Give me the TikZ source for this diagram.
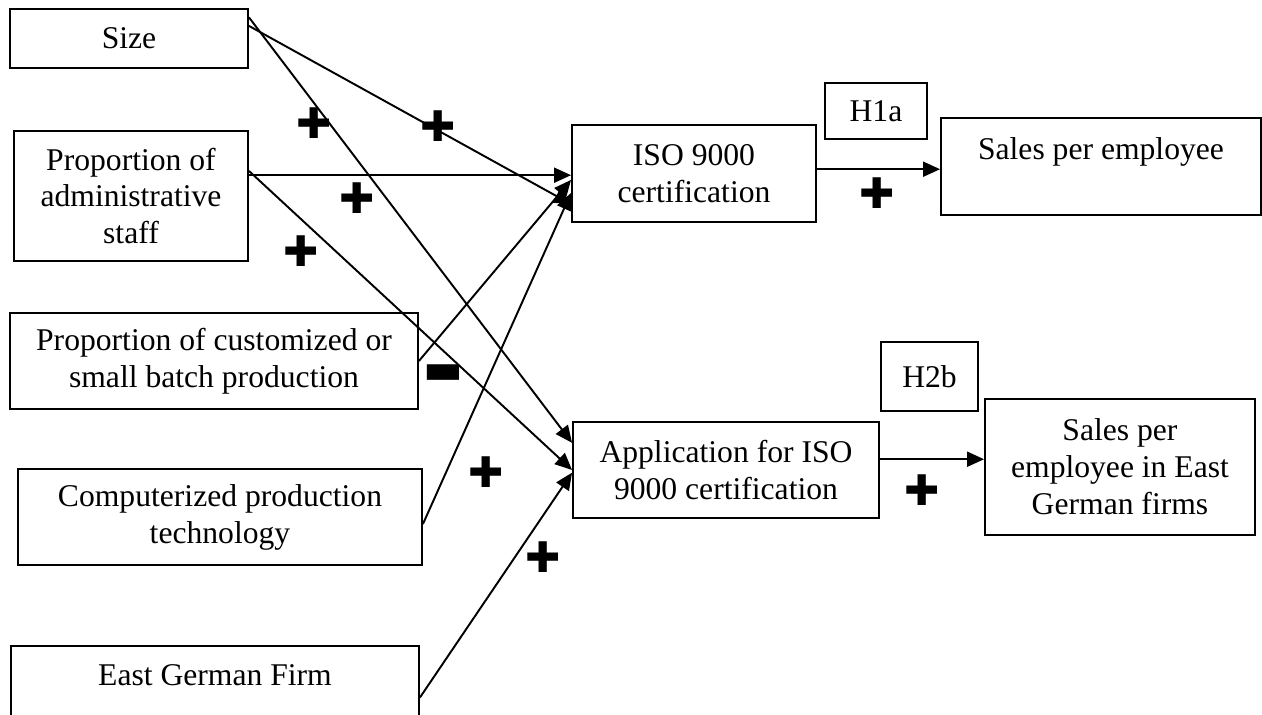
\documentclass[tikz,border=0pt]{standalone}
\usepackage{fontspec}
\setmainfont{Liberation Serif}
\newfontfamily\signfont{DejaVu Sans}
\usetikzlibrary{arrows.meta}

\begin{document}
\begin{tikzpicture}[x=0.02cm, y=-0.02cm, line width=1.1pt,
    box/.style={draw, rectangle, align=center, inner sep=0pt, font=\fontsize{18}{21}\selectfont},
    sign/.style={inner sep=0pt, font=\signfont\fontsize{24}{24}\selectfont},
    >={Triangle[length=0.34cm, width=0.3cm]}]
  \useasboundingbox (0,0) rectangle (1262,715);
  \clip (0,0) rectangle (1262,715);
  \begin{scope}
    \node[box, minimum width=4.76cm, minimum height=1.18cm] (f0) at (129,38.5) {Size};
    \node[box, minimum width=4.68cm, minimum height=2.6cm] (f1) at (131,196) {Proportion of\\administrative\\staff};
    \node[box, minimum width=8.16cm, minimum height=1.92cm] (f2) at (214,361) {Proportion of customized or\\small batch production};
    \node[box, minimum width=8.08cm, minimum height=1.92cm] (f3) at (220,517) {Computerized production\\technology};
    \node[box, minimum width=8.16cm, minimum height=1.92cm, anchor=north] (f4) at (215,645) {East German Firm\\\mbox{}};
  \end{scope}
  \begin{scope}
    \node[box, minimum width=4.88cm, minimum height=1.94cm] (i0) at (694,173.5) {ISO 9000\\certification};
    \node[box, minimum width=6.12cm, minimum height=1.92cm] (i1) at (726,470) {Application for ISO\\9000 certification};
    \node[box, minimum width=2.04cm, minimum height=1.12cm] (h0) at (876,111) {H1a};
    \node[box, minimum width=1.94cm, minimum height=1.38cm] (h1) at (929.5,376.5) {H2b};
    \node[box, minimum width=6.4cm, minimum height=1.94cm] (p0) at (1101,166.5) {Sales per employee\\\mbox{}};
    \node[box, minimum width=5.4cm, minimum height=2.72cm] (p1) at (1120,467) {Sales per\\employee in East\\German firms};
  \end{scope}
  \begin{scope}[->]
    \draw (f0.10) -- (i1.170);
    \draw (f0.6) -- (i0.194);
    \draw (f1.10) -- (f1.10 -| i0.west);
    \draw (f1.12) -- (i1.west);
    \draw (f2.east) -- (i0.183);
    \draw (f3.-2) -- (i0.189);
    \draw (f4.-1) -- (i1.181);
    \draw (i0.2) -- (i0.2 -| p0.west);
    \draw (i1.4) -- (i1.4 -| p1.west);
  \end{scope}
  \begin{scope}
    \node[sign] (s0) at (314,123) {✚};
    \node[sign] (s1) at (438,126) {✚};
    \node[sign] (s2) at (357,198) {✚};
    \node[sign] (s3) at (301,251) {✚};
    \node[sign] (s4) at (443,374) {▬};
    \node[sign] (s5) at (486,472) {✚};
    \node[sign] (s6) at (543,557) {✚};
    \node[sign] (s7) at (877,193) {✚};
    \node[sign] (s8) at (922,490) {✚};
  \end{scope}
\end{tikzpicture}
\end{document}
